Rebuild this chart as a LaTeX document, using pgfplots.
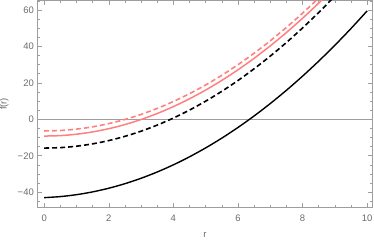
\documentclass[border=0pt]{standalone}
\usepackage{pgfplots}
\pgfplotsset{compat=1.18}
\usepackage{fontspec}
\setmainfont{Liberation Sans}
\definecolor{pinkline}{rgb}{1,0.5,0.5}
\definecolor{framegray}{rgb}{0.62,0.62,0.62}
\definecolor{labelgray}{rgb}{0.42,0.42,0.42}
\begin{document}
\begin{tikzpicture}
\begin{axis}[
  name=ax,
  scale only axis,
  width=334.6bp, height=206.8bp,
  xmin=-0.2, xmax=10.16,
  ymin=-48.3, ymax=65.2,
  axis line style={framegray, line width=0.6bp},
  xtick={0,2,4,6,8,10},
  xticklabels={0,2,4,6,8,10},
  ytick={-40,-20,0,20,40,60},
  yticklabels={−40,−20,0,20,40,60},
  minor xtick={0.5,1,...,10},
  minor ytick={-45,-35,-30,-25,-15,-10,-5,5,10,15,25,30,35,45,50,55,65},
  tick style={framegray, line width=0.5bp},
  major tick length=4bp,
  minor tick length=2.3bp,
  tick align=inside,
  xtick pos=both, ytick pos=both,
  xticklabel pos=lower, yticklabel pos=left,
  tick label style={font=\fontsize{9.5}{11}\selectfont, text=labelgray},
  xticklabel style={anchor=base, yshift=-13.9bp, inner sep=0pt},
  yticklabel style={anchor=east, xshift=-3.7bp, inner sep=0pt},
  xlabel={r},
  ylabel={f(r)},
  label style={font=\fontsize{9.5}{11}\selectfont, text=labelgray},
  xlabel style={at={(axis description cs:0.5,0)}, anchor=base, yshift=-30.2bp, inner sep=0pt},
  ylabel style={at={(axis description cs:-0.1,0.5)}, anchor=center, inner sep=0pt},
  clip=true,
]
\addplot[framegray, line width=0.5bp, forget plot] coordinates {(-0.2,0) (10.16,0)};
% black solid
\addplot[black, line width=1.4bp, smooth] coordinates {
(0,-43) (0.5,-42.42) (1,-41.37) (1.5,-39.84) (2,-37.83) (2.5,-35.34) (3,-32.37)
(3.5,-28.92) (4,-24.99) (4.5,-20.59) (5,-15.70) (5.5,-10.34) (6,-4.49) (6.5,1.83)
(7,8.63) (7.5,15.91) (8,23.67) (8.5,31.91) (9,40.63) (9.5,49.82) (10,59.5)};
% black dashed
\addplot[black, line width=1.6bp, smooth, dash pattern=on 5bp off 3bp] coordinates {
(0,-15.8) (0.5,-15.54) (1,-14.77) (1.5,-13.48) (2,-11.68) (2.5,-9.36) (3,-6.53)
(3.5,-3.18) (4,0.68) (4.5,5.06) (5,9.95) (5.5,15.36) (6,21.28) (6.5,27.72)
(7,34.67) (7.5,42.14) (8,50.12) (8.5,58.62) (9,67.63) (9.5,77.16)};
% pink solid
\addplot[pinkline, line width=1.5bp, smooth] coordinates {
(0,-9.2) (0.5,-8.95) (1,-8.19) (1.5,-6.93) (2,-5.16) (2.5,-2.89) (3,-0.11)
(3.5,3.17) (4,6.96) (4.5,11.25) (5,16.05) (5.5,21.35) (6,27.16) (6.5,33.47)
(7,40.29) (7.5,47.61) (8,55.44) (8.5,63.77) (9,72.61)};
% pink dashed
\addplot[pinkline, line width=1.6bp, smooth, dash pattern=on 5bp off 3bp] coordinates {
(0,-6.4) (0.5,-6.15) (1,-5.39) (1.5,-4.13) (2,-2.36) (2.5,-0.09) (3,2.69)
(3.5,5.97) (4,9.76) (4.5,14.05) (5,18.85) (5.5,24.15) (6,29.96) (6.5,36.27)
(7,43.09) (7.5,50.41) (8,58.24) (8.5,66.57) (9,75.41)};
\end{axis}
\pgfresetboundingbox
\path (ax.south west) ++(-37.7bp,-32.7bp) coordinate (bl);
\path (ax.north east) ++(1.7bp,0.5bp) coordinate (tr);
\path[use as bounding box] (bl) rectangle (tr);
\end{tikzpicture}
\end{document}
